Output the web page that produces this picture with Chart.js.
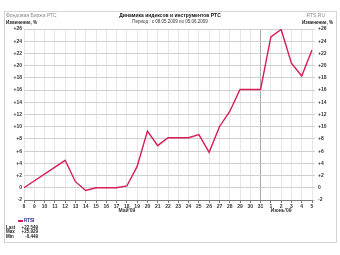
<!DOCTYPE html>
<html>
<head>
<meta charset="utf-8">
<script src="https://cdn.jsdelivr.net/npm/chart.js@4"></script>
<style>
  body { margin: 0; background: #fff; font-family: 'Liberation Sans', Arial, sans-serif; }
  #wrap { position: relative; width: 340px; height: 255px; overflow: hidden; }
  #frame { position: absolute; left: 4px; top: 11px; width: 331px; height: 230px; border: 1px solid #d4d4d4; }
  canvas { position: absolute; left: 0; top: 0; }
  .t { position: absolute; white-space: nowrap; line-height: 1; }
</style>
</head>
<body>
<div id="wrap">
  <div id="frame"></div>
  <canvas id="rtsChart" width="340" height="255"></canvas>
  <div class="t" style="left:6px;top:13px;font-size:5px;color:#8a8a8a;">Фондовая Биржа РТС</div>
  <div class="t" style="left:0;width:340px;top:13px;text-align:center;font-size:5px;font-weight:bold;color:#111;">Динамика индексов и инструментов РТС</div>
  <div class="t" style="left:0;width:340px;top:20px;text-align:center;font-size:4.5px;color:#333;">Период : с 08.05.2009 по 05.06.2009</div>
  <div class="t" style="right:15px;top:13px;font-size:5px;color:#8a8a8a;">RTS.RU</div>
  <div class="t" style="left:6px;top:21px;font-size:4.5px;font-weight:bold;color:#222;">Изменение, %</div>
  <div class="t" style="right:7px;top:21px;font-size:4.5px;font-weight:bold;color:#222;">Изменение, %</div>
  <div id="legend"></div>
</div>
<script>
// trading days 08.05.2009 - 05.06.2009
const days = ['8', '9', '10', '11', '12', '13', '14', '15', '16', '17', '18', '19', '20', '21', '22',
  '23', '24', '25', '26', '27', '28', '29', '30', '31', '1', '2', '3', '4', '5'];
// RTSI change, % (no data on the May holidays)
const rtsi = [0, null, null, null, 4.5, 1.0, -0.449, 0.0, 0.0, 0.0, 0.3, 3.5, 9.3, 6.9, 8.2,
  8.2, 8.2, 8.7, 5.8, 10.0, 12.5, 16.1, 16.1, 16.1, 24.7, 25.929, 20.4, 18.3, 22.549];
const monthNames = ["Май'09", "Июнь'09"];
const monthDays = ['18', '2'];
const statNames = ['Last', 'Max', 'Min'];
const statValues = ['+22.549', '+25.929', '-0.449'];
const seriesName = 'RTSI';
const lineColor = '#d81c55';

// legend block under the chart
const legend = document.getElementById('legend');
let html = '<div class="t" style="left:18px;top:219px;font-size:4.5px;font-weight:bold;color:#1a1a8c;">' +
  '<span style="display:inline-block;width:5px;height:1.5px;background:' + lineColor +
  ';vertical-align:middle;margin-right:1px;"></span>' + seriesName + '</div>';
statNames.forEach((n, i) => {
  html += '<div class="t" style="left:6px;top:' + (225.5 + i * 4.6) + 'px;font-size:4.5px;font-weight:bold;color:#222;">' + n + '</div>';
  html += '<div class="t" style="left:20px;width:18px;text-align:right;top:' + (225.5 + i * 4.6) +
    'px;font-size:4.5px;font-weight:bold;color:#222;">' + statValues[i] + '</div>';
});
legend.innerHTML = html;

const fmt = (v) => (v > 0 ? '+' + v : '' + v);
const tickFont = { family: "'Liberation Sans', Arial, sans-serif", size: 5, weight: 'bold', lineHeight: 0.85 };

const ctx = document.getElementById('rtsChart').getContext('2d');
new Chart(ctx, {
  type: 'line',
  data: {
    labels: days,
    datasets: [{
      label: seriesName,
      data: rtsi,
      borderColor: lineColor,
      borderWidth: 1.4,
      pointRadius: 0,
      tension: 0,
      spanGaps: true,
      yAxisID: 'y',
    }],
  },
  options: {
    responsive: false,
    animation: false,
    layout: { padding: { top: 29, left: 0, right: 0, bottom: 0 } },
    plugins: { legend: { display: false }, tooltip: { enabled: false } },
    scales: {
      x: {
        offset: false,
        grid: {
          // month boundary gets a darker line
          color: (c) => (c.tick && c.tick.label === '31' ? '#a8a8a8' : '#e6e6e6'),
          tickLength: 3,
          tickColor: '#777',
        },
        border: { display: true, color: '#777' },
        ticks: {
          autoSkip: false,
          maxRotation: 0,
          padding: 1,
          color: '#333',
          font: tickFont,
          callback: function (value) {
            const lbl = this.getLabelForValue(value);
            const m = monthDays.indexOf(lbl);
            return m >= 0 ? [lbl, monthNames[m]] : lbl;
          },
        },
        afterFit: (s) => { s.height = 55; },
      },
      y: {
        position: 'left',
        min: -2,
        max: 26,
        grid: { color: '#cfcfcf', drawTicks: false },
        border: { display: false },
        ticks: { stepSize: 2, padding: 2, color: '#333', font: tickFont, callback: fmt },
        afterFit: (s) => { s.width = 24; },
      },
      y2: {
        position: 'right',
        min: -2,
        max: 26,
        grid: { drawOnChartArea: false, tickLength: 3, color: '#cfcfcf' },
        border: { display: false },
        ticks: { stepSize: 2, padding: 3, color: '#333', font: tickFont, callback: fmt },
        afterFit: (s) => { s.width = 28; },
      },
    },
  },
});
</script>
</body>
</html>
